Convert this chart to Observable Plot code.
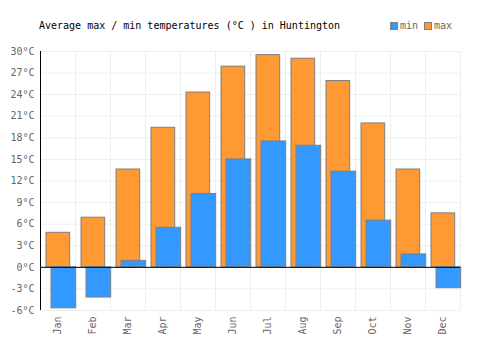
<!DOCTYPE html>
<html>
<head>
<meta charset="utf-8">
<script src="https://cdn.jsdelivr.net/npm/d3@7"></script>
<script src="https://cdn.jsdelivr.net/npm/@observablehq/plot@0.6"></script>
<style>
  body { margin: 0; background: #fff; }
  #wrap { position: relative; width: 500px; height: 350px; font-family: "DejaVu Sans Mono", monospace; }
  #title { position: absolute; left: 39px; top: 20px; font-size: 10px; color: #000; white-space: pre; }
  #legend { position: absolute; left: 390px; top: 20px; font-size: 10px; color: #666; display: flex; align-items: center; }
  .sw { display: inline-block; width: 6px; height: 6px; border: 1px solid #808080; margin-right: 2px; }
  .item { display: flex; align-items: center; margin-right: 6px; }
</style>
</head>
<body>
<div id="wrap">
  <div id="chart"></div>
  <div id="title">Average max / min temperatures (°C ) in Huntington</div>
  <div id="legend">
    <span class="item"><span class="sw" style="background:#3399ff"></span>min</span>
    <span class="item"><span class="sw" style="background:#ff9933"></span>max</span>
  </div>
</div>
<script>
const months = ["Jan","Feb","Mar","Apr","May","Jun","Jul","Aug","Sep","Oct","Nov","Dec"];
const maxTemps = [4.8, 6.9, 13.6, 19.4, 24.3, 27.9, 29.5, 29.0, 25.9, 20.0, 13.6, 7.5];
const minTemps = [-5.7, -4.2, 0.9, 5.5, 10.2, 15.0, 17.5, 16.9, 13.3, 6.5, 1.8, -2.9];
const yTicks = [-6, -3, 0, 3, 6, 9, 12, 15, 18, 21, 24, 27, 30];

const maxData = months.map((m, i) => ({i, v: maxTemps[i]}));
const minData = months.map((m, i) => ({i, v: minTemps[i]}));

const chart = Plot.plot({
  width: 500,
  height: 350,
  marginLeft: 40,
  marginRight: 40,
  marginTop: 51,
  marginBottom: 40,
  style: {fontFamily: "DejaVu Sans Mono, monospace", fontSize: "10px", background: "#fff"},
  x: {type: "linear", domain: [0, 12], axis: null},
  y: {domain: [-6, 30], axis: null},
  marks: [
    Plot.gridY(yTicks, {stroke: "#eeeeee", strokeOpacity: 1, strokeWidth: 1}),
    Plot.ruleX(d3.range(1, 13), {stroke: "#eeeeee", strokeWidth: 1}),
    Plot.rectY(maxData, {x1: d => d.i, x2: d => d.i + 1, y1: 0, y2: "v", insetLeft: 6, insetRight: 5.3, fill: "#ff9933", stroke: "#808080", strokeWidth: 1}),
    Plot.rectY(minData, {x1: d => d.i, x2: d => d.i + 1, y1: 0, y2: "v", insetLeft: 11, insetRight: -0.7, fill: "#3399ff", stroke: "#808080", strokeWidth: 1}),
    Plot.ruleY([0], {stroke: "#000", strokeWidth: 1}),
    Plot.ruleX([0], {stroke: "#000", strokeWidth: 1}),
    Plot.axisY(yTicks, {label: null, tickSize: 0, tickPadding: 6, tickFormat: d => d + "°C", fill: "#666"}),
    Plot.axisX(months.map((m, i) => i + 0.5), {label: null, tickSize: 0, tickPadding: 6, tickRotate: -90, tickFormat: d => months[Math.floor(d)], fill: "#666"})
  ]
});
document.getElementById("chart").appendChild(chart);
</script>
</body>
</html>
